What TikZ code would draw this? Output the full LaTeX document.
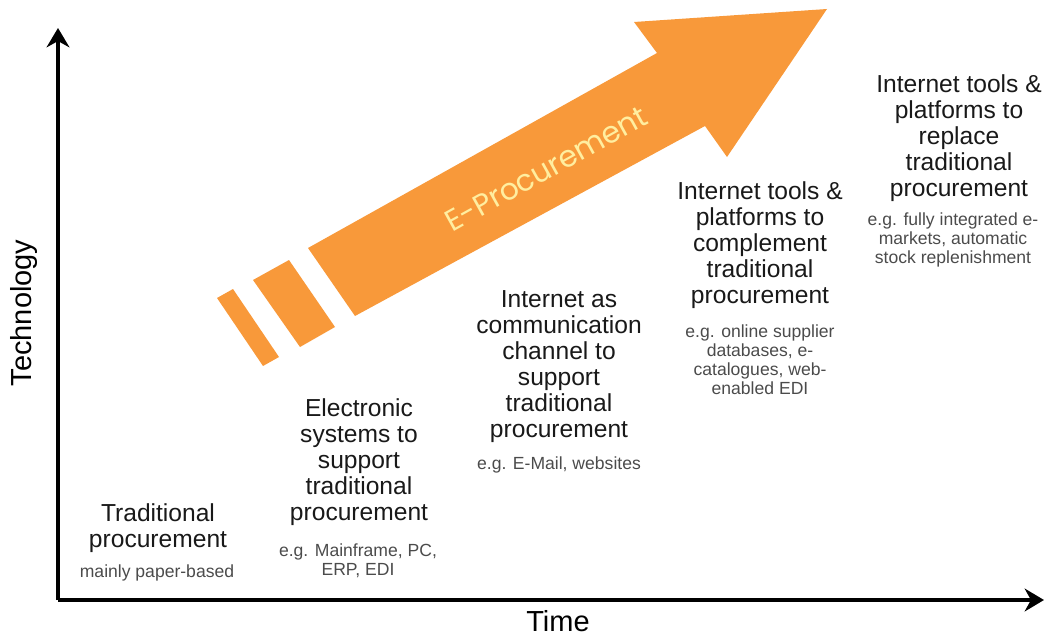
\documentclass[tikz,border=0pt]{standalone}
\usepackage{fontspec}
\setmainfont{Liberation Sans}
\newfontfamily\eprocfont{Poppins}
\usepackage{xcolor}
\usepackage{tikz}
\usetikzlibrary{positioning, arrows.meta}
\definecolor{eorange}{RGB}{248,153,58}
\definecolor{etext}{RGB}{255,238,160}
\definecolor{exgray}{RGB}{75,75,75}

\begin{document}
\begin{tikzpicture}[x=0.02cm,y=-0.02cm]
	\tikzstyle{stage}=[align=center,inner sep=0pt,text=black!90,font=\fontsize{14}{14.8}\selectfont]
	\tikzstyle{example}=[align=center,inner sep=0pt,text=exgray,font=\fontsize{10}{10.8}\selectfont]
	\tikzstyle{axis}=[line width=2pt,-{Stealth[length=11pt,width=13pt]}]
	\tikzstyle{axislabel}=[inner sep=0pt,font=\fontsize{16.5}{16.5}\selectfont]
	\useasboundingbox (0,0) rectangle (1044,635);
	% the big arrow
	\fill[eorange] (308,248) -- (657,53) -- (634,22) -- (827,9) -- (727,157) -- (705,126) -- (355,316) -- cycle;
	\fill[eorange] (253,280) -- (289,260) -- (335,327) -- (300,347) -- cycle;
	\fill[eorange] (217,298) -- (233,289) -- (279,357) -- (263,366) -- cycle;
	\node[rotate=29,inner sep=0pt,text=etext,font=\eprocfont\fontsize{17}{17}\selectfont](eproc) at (546,169){E-Procurement};
	% axes
	\coordinate (origin) at (58,600);
	\coordinate (ytop) at (58,28);
	\coordinate (xend) at (1044,600);
	\draw[axis] (origin) -- (ytop);
	\draw[axis] (origin) -- (xend);
	\node[axislabel,rotate=90](tech) at (24,313){Technology};
	\node[axislabel](time) at (558,621){Time};
	% stages
	\node[stage](trad) at (158,528.5){Traditional\\procurement};
	\node[example](tradex) at (157,573){mainly paper-based};
	\node[stage](elec) at (359,462){Electronic\\systems to\\support\\traditional\\procurement};
	\node[example](elecex) at (358,561){e.g. Mainframe, PC,\\ERP, EDI};
	\node[stage](inet) at (559,367){Internet as\\communication\\channel to\\support\\traditional\\procurement};
	\node[example](inetex) at (559,465){e.g. E-Mail, websites};
	\node[stage](compl) at (760,245){Internet tools \&\\platforms to\\complement\\traditional\\procurement};
	\node[example](complex) at (760,360){e.g. online supplier\\databases, e-\\catalogues, web-\\enabled EDI};
	\node[stage](repl) at (959,138.5){Internet tools \&\\platforms to\\replace\\traditional\\procurement};
	\node[example](replex) at (953,240){e.g. fully integrated e-\\markets, automatic\\stock replenishment};
\end{tikzpicture}
\end{document}
